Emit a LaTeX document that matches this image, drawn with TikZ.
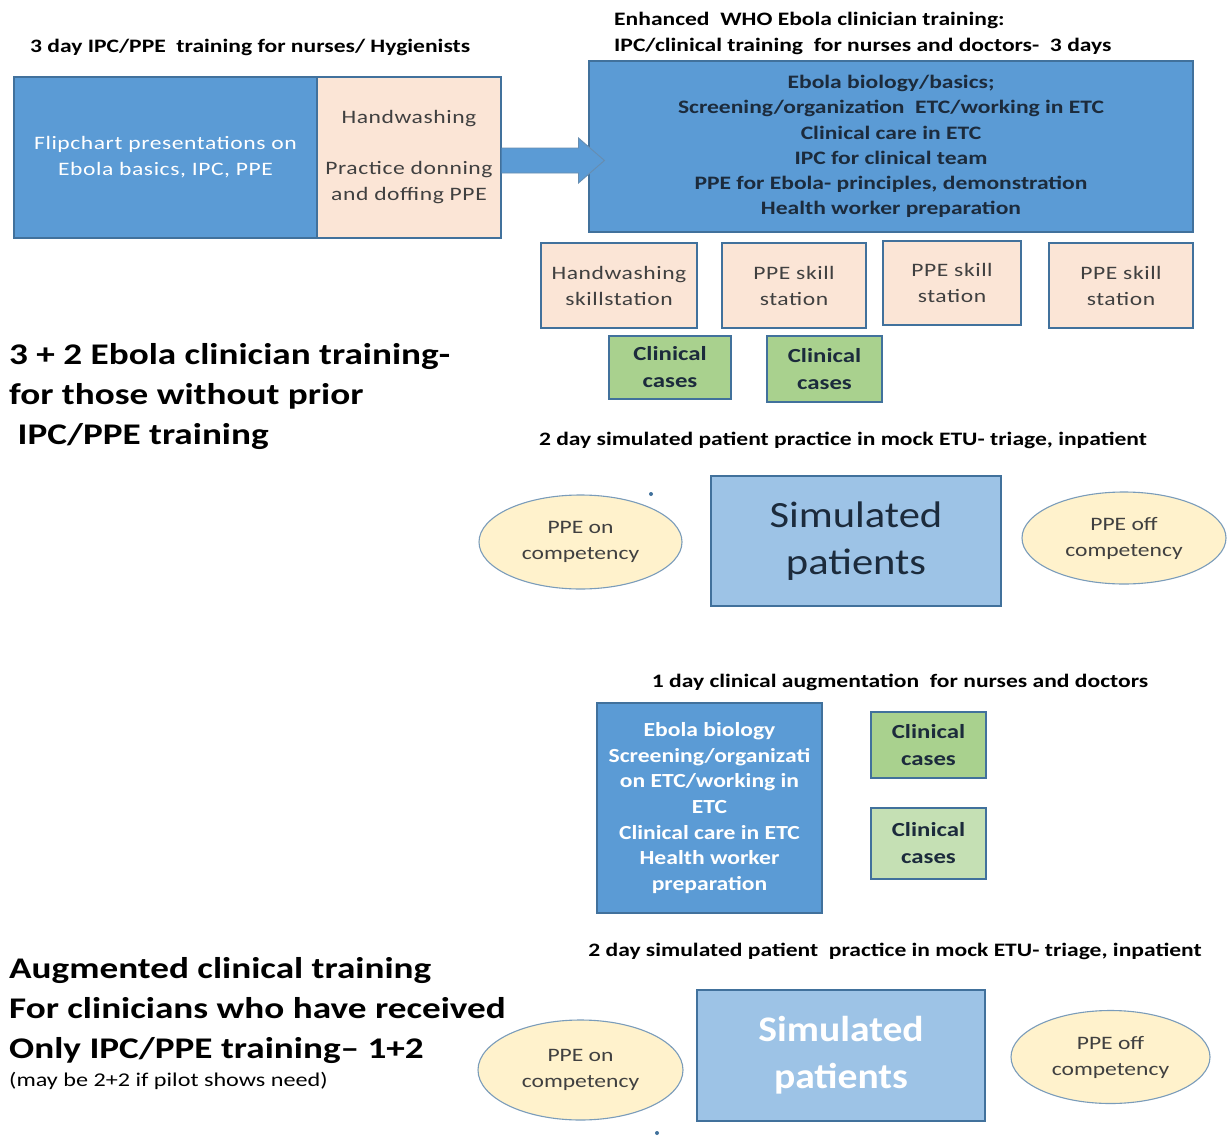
\documentclass[tikz,border=0pt]{standalone}
\usepackage{fontspec}
\setmainfont[FakeStretch=1.24]{Carlito}
\usetikzlibrary{calc,shapes.geometric}
\definecolor{bluefill}{HTML}{5B9BD5}
\definecolor{bordc}{HTML}{41719C}
\definecolor{peach}{HTML}{FBE5D6}
\definecolor{greenA}{HTML}{A9D18E}
\definecolor{greenB}{HTML}{C5E0B4}
\definecolor{yell}{HTML}{FFF2CC}
\definecolor{lblue}{HTML}{9DC3E6}
\definecolor{dtext}{HTML}{404040}
\definecolor{navy}{HTML}{1C2B3C}
\tikzset{
  boxbase/.style={draw=bordc, line width=1.1pt, rectangle, inner sep=0pt, align=center},
  bluebox/.style={boxbase, fill=bluefill},
  peachbox/.style={boxbase, fill=peach, text=dtext, font=\fontsize{19}{26}\selectfont\addfontfeature{LetterSpace=3}},
  greenbox/.style={boxbase, fill=greenA, text=navy, font=\fontsize{20}{27}\selectfont\bfseries},
  oval/.style={ellipse, draw=bordc!70, line width=1.1pt, fill=yell, inner sep=0pt, align=center, text=dtext, font=\fontsize{19}{26}\selectfont},
  simbox/.style={boxbase, fill=lblue},
  title/.style={inner sep=0pt, anchor=west, align=left, font=\fontsize{19}{26}\selectfont\bfseries, text=black},
  bigtitle/.style={inner sep=0pt, anchor=west, align=left, font=\fontsize{30}{40}\selectfont\bfseries, text=black},
  ctitle/.style={inner sep=0pt, font=\fontsize{19}{26}\selectfont\bfseries, text=black},
}
\begin{document}
\begin{tikzpicture}[x=1pt,y=-1pt]
\useasboundingbox[fill=white] (0,0) rectangle (1227,1140);

% ---- top left block
\node[title] (t1) at (30,47) {3 day IPC/PPE\ \ training for nurses/ Hygienists};
\node[bluebox, minimum width=303pt, minimum height=161pt, text=white,
  font=\fontsize{19}{26}\selectfont\addfontfeature{LetterSpace=3}] (flip) at (165.5,157.5)
  {Flipchart presentations on\\Ebola basics, IPC, PPE};
\node[peachbox, minimum width=184pt, minimum height=161pt] (hand) at (409,157.5)
  {Handwashing\\[25pt]Practice donning\\and doffing PPE};

% ---- top right block
\node[title] (t2) at (614,33) {Enhanced\ \ WHO Ebola clinician training:\\IPC/clinical training\ \ for nurses and doctors-\ \ 3 days};
\node[bluebox, minimum width=604pt, minimum height=171pt, text=navy,
  font=\fontsize{19}{25.3}\selectfont\bfseries] (enh) at (891,146.5)
  {Ebola biology/basics;\\Screening/organization\ \ ETC/working in ETC\\Clinical care in ETC\\IPC for clinical team\\PPE for Ebola- principles, demonstration\\Health worker preparation};

% block arrow from hand to enh
\coordinate (ab) at ($(enh.west |- hand.east)+(0,3)$);
\filldraw[fill=bluefill, draw=bordc!80, line width=0.9pt]
  ($(hand.east)+(0,-9.5)$) -- ($(ab)+(-10,-12.5)$)
  -- ($(ab)+(-10,-22.5)$) -- ($(ab)+(16,0)$)
  -- ($(ab)+(-10,22.5)$) -- ($(ab)+(-10,12.5)$)
  -- ($(hand.east)+(0,15.5)$);

% skill stations
\node[peachbox, minimum width=156pt, minimum height=85pt] (s1) at (619,285.5) {Handwashing\\skillstation};
\node[peachbox, minimum width=144pt, minimum height=85pt] (s2) at (794,285.5) {PPE skill\\station};
\node[peachbox, minimum width=138pt, minimum height=84pt] (s3) at (952,283) {PPE skill\\station};
\node[peachbox, minimum width=144pt, minimum height=85pt] (s4) at (1121,285.5) {PPE skill\\station};
\node[greenbox, minimum width=122pt, minimum height=63pt] (c1) at (670,367.5) {Clinical\\cases};
\node[greenbox, minimum width=115pt, minimum height=66pt] (c2) at (824.5,369) {Clinical\\cases};

% middle left title
\node[bigtitle] (t3) at (9,397) {3 + 2 Ebola clinician training-\\for those without prior\\\ IPC/PPE training};

% first simulation
\node[ctitle] (t4) at (843,440) {2 day simulated patient practice in mock ETU- triage, inpatient};
\node[oval, minimum width=203pt, minimum height=94pt] (on1) at (580.5,542) {PPE on\\competency};
\fill[bordc] (651,494) circle (2pt);
\node[simbox, minimum width=290pt, minimum height=130pt, text=navy,
  font=\fontsize{37}{47}\selectfont\addfontfeature{FakeStretch=1.15}] (sim1) at (856,541) {Simulated\\patients};
\node[oval, minimum width=204pt, minimum height=92pt] (off1) at (1124,538) {PPE off\\competency};

% second part
\node[ctitle] (t5) at (900,682) {1 day clinical augmentation\ \ for nurses and doctors};
\node[bluebox, minimum width=225pt, minimum height=210pt, text=white,
  font=\fontsize{20}{25.6}\selectfont\bfseries\addfontfeature{FakeStretch=1.18}] (aug) at (709.5,808)
  {Ebola biology\\Screening/organizati\\on ETC/working in\\ETC\\Clinical care in ETC\\Health worker\\preparation};
\node[greenbox, minimum width=115pt, minimum height=66pt] (c3) at (928.5,745) {Clinical\\cases};
\node[greenbox, fill=greenB, minimum width=115pt, minimum height=71pt] (c4) at (928.5,843.5) {Clinical\\cases};

\node[ctitle] (t6) at (895,951) {2 day simulated patient\ \ practice in mock ETU- triage, inpatient};
\node[bigtitle] (t7) at (9,1011) {Augmented clinical training\\For clinicians who have received\\Only IPC/PPE training-- 1+2};
\node[inner sep=0pt, anchor=west, font=\fontsize{19.5}{20}\selectfont, text=black] (t8) at (9,1081) {(may be 2+2 if pilot shows need)};

\node[oval, minimum width=205pt, minimum height=100pt] (on2) at (580.5,1070) {PPE on\\competency};
\fill[bordc] (657,1133) circle (2pt);
\node[simbox, minimum width=288pt, minimum height=131pt, text=white,
  font=\fontsize{36}{47}\selectfont\bfseries\addfontfeature{FakeStretch=1.1}] (sim2) at (841,1055.5) {Simulated\\patients};
\node[oval, minimum width=199pt, minimum height=93pt] (off2) at (1110.5,1057) {PPE off\\competency};
\end{tikzpicture}
\end{document}
